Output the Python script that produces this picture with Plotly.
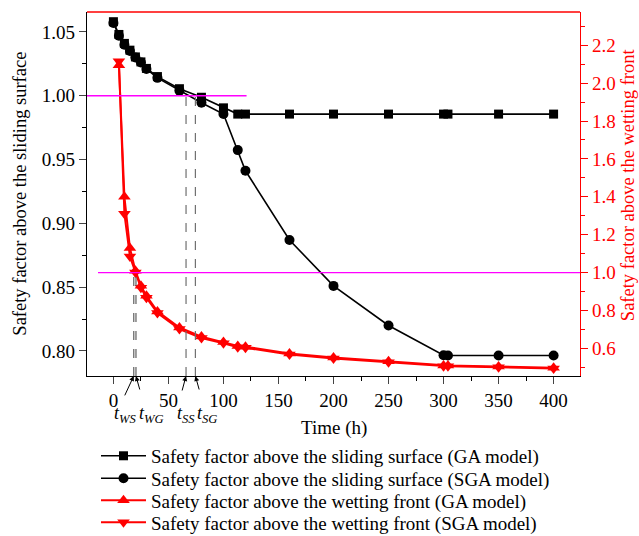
import plotly.graph_objects as go

# ---------------- data ----------------
t_slide = [0, 5, 10, 15, 20, 25, 30, 40, 60, 80, 100, 113, 120, 160, 200, 250, 300, 304, 350, 400]
fs_slide_ga = [1.058, 1.048, 1.041, 1.0357, 1.0304, 1.0265, 1.0214, 1.0150, 1.0055, 0.9988, 0.9905,
               0.9856, 0.9856, 0.9856, 0.9856, 0.9856, 0.9856, 0.9856, 0.9856, 0.9856]
fs_slide_sga = [1.057, 1.047, 1.040, 1.035, 1.030, 1.026, 1.021, 1.014, 1.004, 0.9945, 0.9857,
                0.9574, 0.9412, 0.887, 0.851, 0.820, 0.7967, 0.7965, 0.7965, 0.7965]

t_wet = [5, 10, 15, 20, 25, 30, 40, 60, 80, 100, 113, 120, 160, 200, 250, 300, 304, 350, 400]
fs_wet_ga = [2.095, 1.40, 1.13, 1.01, 0.93, 0.877, 0.795, 0.71, 0.662, 0.633, 0.612, 0.609,
             0.573, 0.552, 0.532, 0.510, 0.509, 0.504, 0.497]
fs_wet_sga = [2.115, 1.31, 1.085, 1.0, 0.92, 0.867, 0.786, 0.702, 0.654, 0.627, 0.606, 0.603,
              0.568, 0.547, 0.527, 0.506, 0.505, 0.500, 0.493]

names = ["Safety factor above the sliding surface (GA model)",
         "Safety factor above the sliding surface (SGA model)",
         "Safety factor above the wetting front (GA model)",
         "Safety factor above the wetting front (SGA model)"]

# critical times (h)
t_marks = {"WS": 18.5, "WG": 20.5, "SS": 66.0, "SG": 74.5}

x_ticks = [0, 50, 100, 150, 200, 250, 300, 350, 400]
y_left_ticks = [0.80, 0.85, 0.90, 0.95, 1.00, 1.05]
y_right_ticks = [0.6, 0.8, 1.0, 1.2, 1.4, 1.6, 1.8, 2.0, 2.2]

FONT = "Liberation Serif"
RED = "#ff0000"
PH = 364.3  # plot height in px
PW = 493.0  # plot width in px

legend_ids = ["legend", "legend2", "legend3", "legend4"]
legend_rows = [456, 478.5, 500.5, 522.5]

fig = go.Figure()
fig.add_trace(go.Scatter(x=t_slide, y=fs_slide_ga, name=names[0], mode="lines+markers",
                         legend=legend_ids[0],
                         line=dict(color="black", width=1.6),
                         marker=dict(symbol="square", size=9, color="black")))
fig.add_trace(go.Scatter(x=t_slide, y=fs_slide_sga, name=names[1], mode="lines+markers",
                         legend=legend_ids[1],
                         line=dict(color="black", width=1.6),
                         marker=dict(symbol="circle", size=10, color="black")))
fig.add_trace(go.Scatter(x=t_wet, y=fs_wet_ga, name=names[2], mode="lines+markers", yaxis="y2",
                         legend=legend_ids[2],
                         line=dict(color=RED, width=2),
                         marker=dict(symbol="triangle-up", size=11, color=RED)))
fig.add_trace(go.Scatter(x=t_wet, y=fs_wet_sga, name=names[3], mode="lines+markers", yaxis="y2",
                         legend=legend_ids[3],
                         line=dict(color=RED, width=2),
                         marker=dict(symbol="triangle-down", size=11, color=RED)))

shapes = []
shapes.append(dict(type="line", xref="x", yref="y", x0=-24, x1=121, y0=1.0, y1=1.0,
                   line=dict(color="#ff00ff", width=1.3)))
shapes.append(dict(type="line", xref="x", yref="y2", x0=-14, x1=424, y0=1.0, y1=1.0,
                   line=dict(color="#ff00ff", width=1.3)))
for k in ["WS", "WG"]:
    shapes.append(dict(type="line", xref="x", yref="y2", x0=t_marks[k], x1=t_marks[k],
                       y0=0.454, y1=1.0, line=dict(color="#606060", width=1.2, dash="dash")))
for k in ["SS", "SG"]:
    shapes.append(dict(type="line", xref="x", yref="y", x0=t_marks[k], x1=t_marks[k],
                       y0=0.7804, y1=1.0, line=dict(color="#707070", width=1.2, dash="dash")))
shapes.append(dict(type="line", xref="paper", yref="paper", x0=0, x1=1, y0=1, y1=1,
                   line=dict(color=RED, width=1.3)))

annotations = []
arrow_off = {"WS": (-13, 28), "WG": (7, 25), "SS": (-7, 26), "SG": (7, 25)}
label_shift = {"WS": -8, "WG": 16, "SS": 0, "SG": 12}
for k, tv in t_marks.items():
    ax, ay = arrow_off[k]
    annotations.append(dict(x=tv, y=0, xref="x", yref="paper", text=" ", showarrow=True,
                            ax=ax, ay=ay, arrowhead=2, arrowsize=1, arrowwidth=1,
                            arrowcolor="black", standoff=0))
    annotations.append(dict(x=tv, y=0, xref="x", yref="paper",
                            text="<i>t</i><sub><i>%s</i></sub>" % k, showarrow=False,
                            xshift=label_shift[k], yshift=-38, yanchor="middle",
                            font=dict(family=FONT, size=18, color="black")))

annotations.append(dict(x=-(87 - 20) / PW, y=0.5 - (193.5 - (11.7 + PH / 2)) / PH,
                        xref="paper", yref="paper", text="Safety factor above the sliding surface",
                        textangle=-90, showarrow=False, xanchor="center", yanchor="middle",
                        font=dict(family=FONT, size=18.5, color="black")))
annotations.append(dict(x=1 + (628 - 580) / PW, y=0.5 - (185 - (11.7 + PH / 2)) / PH,
                        xref="paper", yref="paper", text="Safety factor above the wetting front",
                        textangle=-90, showarrow=False, xanchor="center", yanchor="middle",
                        font=dict(family=FONT, size=18.5, color=RED)))
annotations.append(dict(x=0.5, y=-(428 - 376) / PH, xref="paper", yref="paper",
                        text="Time (h)", showarrow=False, xanchor="center", yanchor="middle",
                        font=dict(family=FONT, size=19, color="black")))

legend_layouts = {}
for lid, row in zip(legend_ids, legend_rows):
    legend_layouts[lid] = dict(x=(96 - 87) / PW, y=-(row - 376) / PH,
                               xanchor="left", yanchor="middle",
                               font=dict(family=FONT, size=19, color="black"),
                               itemwidth=45, bgcolor="rgba(0,0,0,0)", borderwidth=0)

fig.update_layout(
    width=639, height=536,
    margin=dict(l=87, r=59, t=12, b=160, autoexpand=False),
    paper_bgcolor="white", plot_bgcolor="white",
    font=dict(family=FONT, size=18, color="black"),
    showlegend=True,
    xaxis=dict(range=[-24, 424], tickvals=x_ticks, ticks="outside", ticklen=7, tickwidth=1.2,
               showline=True, linecolor="black", linewidth=1.3, showgrid=False, zeroline=False,
               minor=dict(dtick=25, tick0=0, ticks="outside", ticklen=4, tickwidth=1.2, tickcolor="black"),
               tickfont=dict(size=19)),
    yaxis=dict(range=[0.7804, 1.0656], tickvals=y_left_ticks, tickformat=".2f",
               ticks="outside", ticklen=7, tickwidth=1.2,
               showline=True, linecolor="black", linewidth=1.3, showgrid=False, zeroline=False,
               minor=dict(dtick=0.025, tick0=0.8, ticks="outside", ticklen=4, tickwidth=1.2, tickcolor="black"),
               tickfont=dict(size=19)),
    yaxis2=dict(range=[0.454, 2.3756], tickvals=y_right_ticks, tickformat=".1f",
                overlaying="y", side="right", anchor="x",
                ticks="outside", ticklen=7, tickwidth=1.2, tickcolor=RED,
                showline=True, linecolor=RED, linewidth=1.3, showgrid=False, zeroline=False,
                minor=dict(dtick=0.1, tick0=0.6, ticks="outside", ticklen=4, tickwidth=1.2, tickcolor=RED),
                tickfont=dict(size=19, color=RED)),
    shapes=shapes,
    annotations=annotations,
    **legend_layouts,
)

fig.write_html("out.html", config={"displayModeBar": False},
               post_script="document.body.style.margin='0px';")
